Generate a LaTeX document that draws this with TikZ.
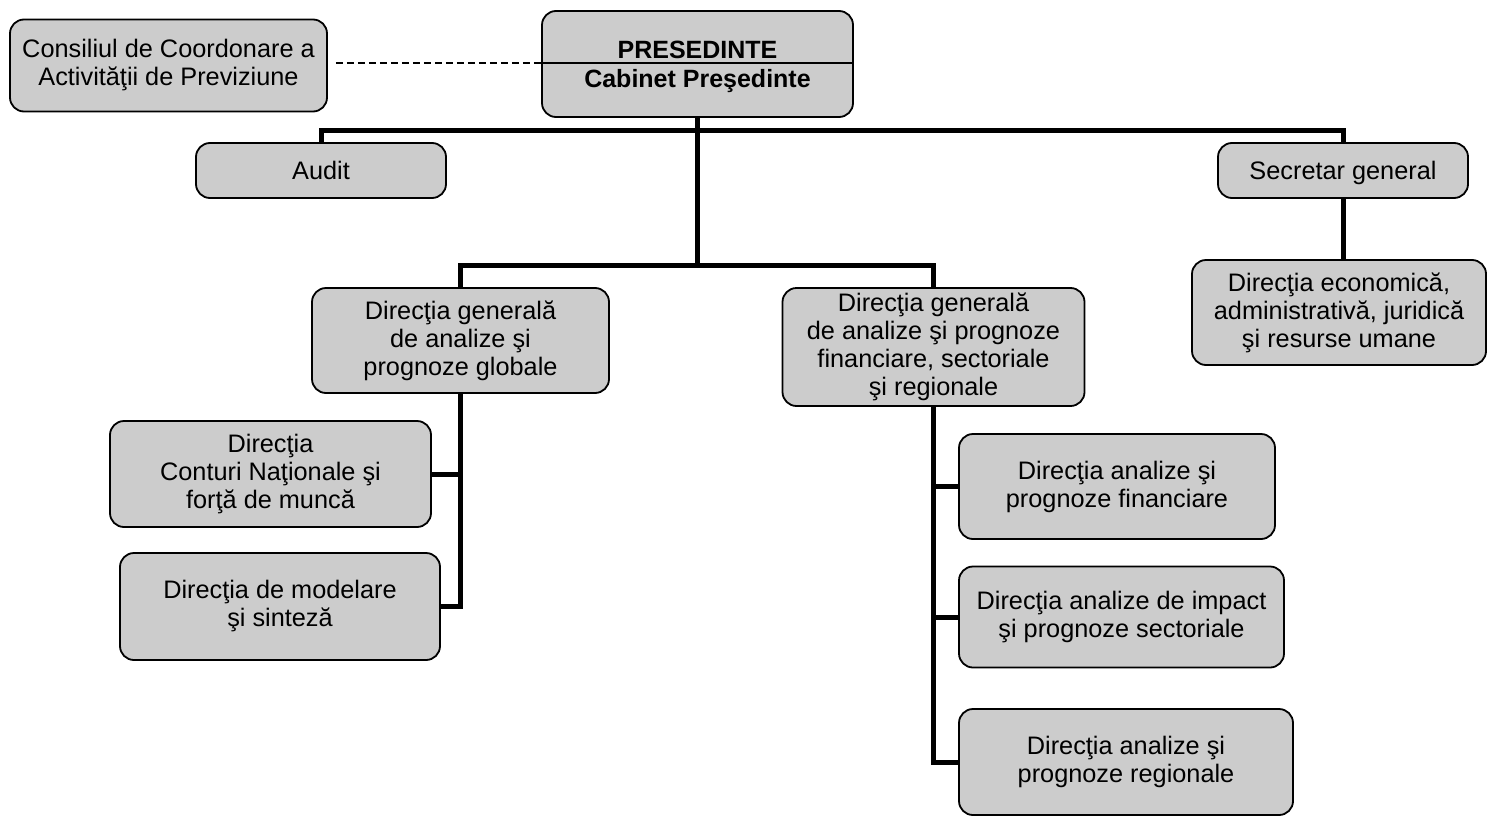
\documentclass[tikz,border=0pt]{standalone}
\usepackage{fontspec}
\setmainfont{Liberation Sans}
\definecolor{boxgray}{RGB}{204,204,204}
\newcommand\myboxstrut{\rule[-5pt]{0pt}{28pt}}
\tikzset{
  box/.style={draw=black, line width=1.8pt, fill=boxgray, rounded corners=14pt,
    inner sep=0pt, align=center, font=\fontsize{25.3}{28}\selectfont,
    execute at begin node=\myboxstrut, execute at end node=\myboxstrut},
  boxtext/.style={inner sep=0pt, align=center, font=\fontsize{25}{28}\selectfont\bfseries,
    execute at begin node=\myboxstrut},
  conn/.style={line width=5pt},
  dashline/.style={line width=1.8pt, dash pattern=on 7pt off 4pt},
  thinline/.style={line width=1.8pt}
}
\begin{document}
\begin{tikzpicture}[x=1pt, y=-1pt]
\useasboundingbox (0,0) rectangle (1487,816);
% boxes
\node[box, minimum width=317pt, minimum height=92pt] (cons) at (168.5,65.5) {Consiliul de Coordonare a\\Activităţii de Previziune};
\node[box, minimum width=311pt, minimum height=106pt] (pres) at (697.5,64) {};
\node[boxtext] (prestitle) at (697.5,50) {PRESEDINTE};
\node[boxtext] (prescab) at (697.5,79) {Cabinet Preşedinte};
\node[box, minimum width=250pt, minimum height=55pt] (audit) at (321,170.5) {Audit};
\node[box, minimum width=250pt, minimum height=55pt] (secr) at (1343,170.5) {Secretar general};
\node[box, minimum width=294pt, minimum height=105pt] (econ) at (1339,312.5) {Direcţia economică,\\administrativă, juridică\\şi resurse umane};
\node[box, minimum width=297pt, minimum height=105pt] (dg1) at (460.5,340.5) {Direcţia generală\\de analize şi\\prognoze globale};
\node[box, minimum width=302pt, minimum height=118pt] (dg2) at (933.5,347) {Direcţia generală\\de analize şi prognoze\\financiare, sectoriale\\şi regionale};
\node[box, minimum width=321pt, minimum height=106pt] (cont) at (270.5,474) {Direcţia\\Conturi Naţionale şi\\forţă de muncă};
\node[box, minimum width=320pt, minimum height=107pt] (model) at (280,606.5) {Direcţia de modelare\\şi sinteză};
\node[box, minimum width=316pt, minimum height=105pt] (fin) at (1117,486.5) {Direcţia analize şi\\prognoze financiare};
\node[box, minimum width=325pt, minimum height=101pt] (imp) at (1121.5,617) {Direcţia analize de impact\\şi prognoze sectoriale};
\node[box, minimum width=334pt, minimum height=106pt] (reg) at (1126,762) {Direcţia analize şi\\prognoze regionale};
% helper coordinates
\coordinate (presline) at (0,63);
\coordinate (busA) at (697.5,130);
\coordinate (busB) at (697.5,265);
% president divider and dashed link
\draw[thinline] (pres.west |- presline) -- (pres.east |- presline);
\draw[dashline] ([xshift=8pt,yshift=2.5pt]cons.east) -- (pres.west |- presline);
% connectors
\draw[conn] (pres.south) -- (busB);
\draw[conn] (audit.north) |- (busA) -| (secr.north);
\draw[conn] (dg1.north) |- (busB) -| (dg2.north);
\draw[conn] (secr.south) -- (secr.south |- econ.north);
\draw[conn] (dg1.south) |- (model.east);
\draw[conn] (cont.east) -- (cont.east -| dg1.south);
\draw[conn] (dg2.south) |- (reg.west);
\draw[conn] (fin.west) -- (fin.west -| dg2.south);
\draw[conn] (imp.west) -- (imp.west -| dg2.south);
\end{tikzpicture}
\end{document}
